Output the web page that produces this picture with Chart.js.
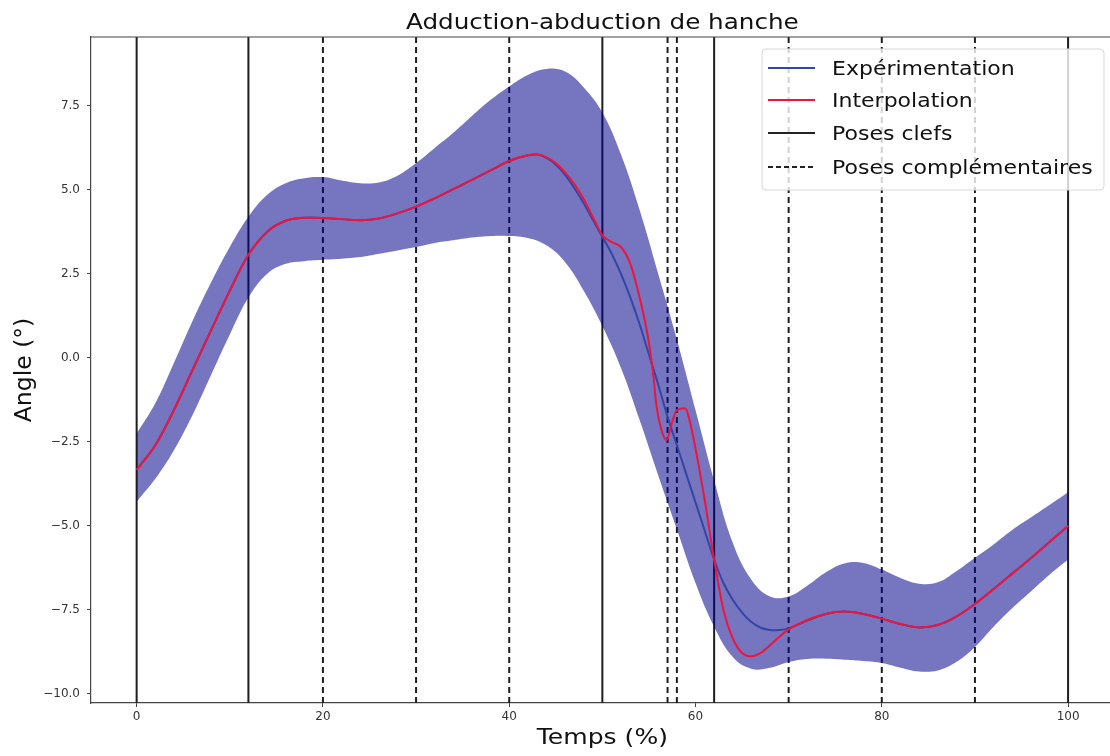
<!DOCTYPE html>
<html>
<head>
<meta charset="utf-8">
<script src="https://cdn.jsdelivr.net/npm/chart.js@4.4.0/dist/chart.umd.min.js"></script>
<style>
  html, body { margin: 0; padding: 0; background: #fff; }
  #wrap { width: 1110px; height: 756px; position: relative; }
</style>
</head>
<body>
<div id="wrap"><canvas id="myChart"></canvas></div>
<script>
// data
const timeExp = [0, 2, 4, 6, 8, 10, 12, 14, 16, 18, 20, 22, 24, 26, 28, 30, 32, 34, 36, 38, 40, 42, 43, 44, 45, 46, 47, 48, 49,
  50, 51, 52, 53, 54, 55, 56, 57, 58, 59, 60, 61, 62, 63, 64, 65, 66, 67, 68, 69, 70, 72, 74, 76, 78, 80, 82, 84, 86, 88, 90, 92, 94, 96, 98, 100];
const experimentation = [-3.33, -2.6, -1.55, -0.36, 0.83, 2.0, 3.07, 3.75, 4.08, 4.17, 4.16, 4.13, 4.1, 4.15, 4.3, 4.5, 4.75, 5.02, 5.3, 5.58, 5.86, 6.03, 6.05, 5.95, 5.75, 5.45, 5.05, 4.6, 4.1,
  3.6, 3.1, 2.5, 1.8, 1.0, 0.1, -0.8, -1.75, -2.6, -3.45, -4.3, -5.15, -6.0, -6.7, -7.2, -7.58, -7.86, -8.03, -8.1, -8.1, -8.05, -7.82, -7.62, -7.55, -7.62, -7.76, -7.92, -8.02, -7.95, -7.7, -7.32, -6.88, -6.42, -5.96, -5.48, -5.0];

const timeInterp = [0, 2, 4, 6, 8, 10, 12, 14, 16, 18, 20, 22, 24, 26, 28, 30, 32, 34, 36, 38, 40, 42, 43, 44, 45, 46, 47, 48, 49,
  50, 51, 52, 53, 54, 55, 55.5, 55.8, 56.3, 56.9, 57.5, 58, 58.9, 59.4, 60, 61, 62, 63, 64, 65, 66, 67, 68, 69, 70, 72, 74, 76, 78, 80, 82, 84, 86, 88, 90, 92, 94, 96, 98, 100];
const interpolation = [-3.33, -2.6, -1.55, -0.36, 0.83, 2.0, 3.07, 3.75, 4.08, 4.17, 4.16, 4.13, 4.1, 4.15, 4.3, 4.5, 4.75, 5.02, 5.3, 5.58, 5.86, 6.03, 6.05, 5.97, 5.8, 5.52, 5.17, 4.72, 4.18,
  3.65, 3.45, 3.3, 2.8, 1.8, 0.45, -0.6, -1.4, -2.1, -2.45, -1.9, -1.55, -1.5, -1.9, -2.7, -4.25, -6.0, -7.5, -8.35, -8.78, -8.88, -8.78, -8.55, -8.3, -8.08, -7.8, -7.62, -7.55, -7.62, -7.76, -7.92, -8.02, -7.95, -7.7, -7.32, -6.88, -6.42, -5.96, -5.48, -5.0];

const timeBand = [0, 2, 4, 6, 8, 10, 12, 14, 16, 18, 20, 22, 24, 26, 28, 30, 32, 34, 36, 38, 40, 42, 44, 46, 48,
  50, 52, 54, 56, 58, 60, 62, 64, 66, 68, 70, 72, 74, 76, 78, 80, 82, 84, 86, 88, 90, 92, 94, 96, 98, 100];
const bandUpper = [-2.25, -1.35, -0.15, 1.1, 2.25, 3.3, 4.2, 4.85, 5.2, 5.35, 5.38, 5.28, 5.2, 5.22, 5.42, 5.8, 6.25, 6.7, 7.2, 7.68, 8.08, 8.42, 8.6, 8.52, 8.05,
  7.3, 6.05, 4.4, 2.5, 0.55, -1.55, -3.65, -5.5, -6.6, -7.1, -7.1, -6.78, -6.38, -6.12, -6.1, -6.3, -6.55, -6.72, -6.68, -6.35, -5.95, -5.55, -5.12, -4.75, -4.38, -4.0];
const bandLower = [-4.28, -3.6, -2.75, -1.7, -0.5, 0.7, 1.8, 2.5, 2.8, 2.88, 2.92, 2.95, 3.0, 3.1, 3.2, 3.3, 3.42, 3.5, 3.58, 3.63, 3.63, 3.57, 3.35, 2.85, 2.0,
  0.95, -0.3, -1.85, -3.5, -5.1, -6.7, -8.0, -8.9, -9.25, -9.22, -9.05, -8.96, -8.95, -8.98, -9.02, -9.08, -9.22, -9.33, -9.3, -9.05, -8.6, -8.0, -7.45, -6.95, -6.45, -6.0];

const posesClefs = [0, 12, 50, 62, 100];
const posesComplementaires = [20, 30, 40, 57, 58, 70, 80, 90];

const xTicks = [0, 20, 40, 60, 80, 100];
const yTicks = [-10, -7.5, -5, -2.5, 0, 2.5, 5, 7.5];

const xMin = -4.9, xMax = 104.5;
const yMin = -10.27, yMax = 9.55;

const FONT = 'DejaVu Sans';

const pts = (xs, ys) => xs.map((x, i) => ({ x: x, y: ys[i] }));
const vlines = (list) => list.flatMap(p => [{ x: p, y: yMin }, { x: p, y: yMax }, { x: p, y: null }]);

const legendItems = [
  { label: 'Expérimentation', color: '#3346a6', dash: [] },
  { label: 'Interpolation', color: '#f0143c', dash: [] },
  { label: 'Poses clefs', color: '#222', dash: [] },
  { label: 'Poses complémentaires', color: '#222', dash: [5, 3] }
];

// text a bit wider than the font, like the reference picture
function wideText(ctx, text, x, y, size, sx, align) {
  ctx.save();
  ctx.font = size + 'px "' + FONT + '"';
  ctx.translate(x, y);
  ctx.scale(sx, 1);
  ctx.textAlign = align;
  ctx.textBaseline = 'alphabetic';
  ctx.fillStyle = '#111';
  ctx.fillText(text, 0, 0);
  ctx.restore();
}

// title, x label, top frame line and legend box drawn by hand
const decorPlugin = {
  id: 'decor',
  afterDraw(chart) {
    const ctx = chart.ctx;
    const a = chart.chartArea;
    ctx.save();
    ctx.strokeStyle = '#444';
    ctx.lineWidth = 1.2;
    ctx.beginPath();
    ctx.moveTo(a.left, a.top);
    ctx.lineTo(a.right, a.top);
    ctx.stroke();

    const cx = chart.scales.x.getPixelForValue(50);
    wideText(ctx, 'Adduction-abduction de hanche', cx, 29, 22, 1.12, 'center');
    wideText(ctx, 'Temps (%)', cx, 744, 22, 1.14, 'center');

    // legend
    const bx = 762, by = 49, bw = 342, bh = 141;
    ctx.beginPath();
    ctx.roundRect(bx, by, bw, bh, 4);
    ctx.fillStyle = 'rgba(255,255,255,0.8)';
    ctx.fill();
    ctx.strokeStyle = '#d6d6d6';
    ctx.lineWidth = 1;
    ctx.stroke();
    const rows = [68, 100, 133, 167];
    legendItems.forEach((it, i) => {
      ctx.beginPath();
      ctx.setLineDash(it.dash);
      ctx.strokeStyle = it.color;
      ctx.lineWidth = 2;
      ctx.moveTo(768, rows[i]);
      ctx.lineTo(815, rows[i]);
      ctx.stroke();
      ctx.setLineDash([]);
      wideText(ctx, it.label, 832, rows[i] + 7, 20, 1.1, 'left');
    });
    ctx.restore();
  }
};

const data = {
  datasets: [
    {
      label: 'Poses clefs',
      data: vlines(posesClefs),
      borderColor: '#1e1e1e',
      borderWidth: 2,
      pointRadius: 0,
      tension: 0,
      fill: false,
      order: 10
    },
    {
      label: 'Poses complémentaires',
      data: vlines(posesComplementaires),
      borderColor: '#1e1e1e',
      borderWidth: 2,
      borderDash: [6, 4],
      pointRadius: 0,
      tension: 0,
      fill: false,
      order: 9
    },
    {
      label: 'upper',
      data: pts(timeBand, bandUpper),
      borderWidth: 0,
      borderColor: 'rgba(0,0,0,0)',
      backgroundColor: 'rgba(0,0,139,0.54)',
      pointRadius: 0,
      tension: 0.4,
      fill: '+1',
      order: 5
    },
    {
      label: 'lower',
      data: pts(timeBand, bandLower),
      borderWidth: 0,
      borderColor: 'rgba(0,0,0,0)',
      pointRadius: 0,
      tension: 0.4,
      fill: false,
      order: 4
    },
    {
      label: 'Expérimentation',
      data: pts(timeExp, experimentation),
      borderColor: '#3346a6',
      borderWidth: 2,
      pointRadius: 0,
      tension: 0.4,
      fill: false,
      order: 2
    },
    {
      label: 'Interpolation',
      data: pts(timeInterp, interpolation),
      borderColor: '#f0143c',
      borderWidth: 2,
      pointRadius: 0,
      cubicInterpolationMode: 'monotone',
      fill: false,
      order: 1
    }
  ]
};

const config = {
  type: 'line',
  data: data,
  plugins: [decorPlugin],
  options: {
    responsive: true,
    maintainAspectRatio: false,
    animation: false,
    layout: { padding: { top: 37, right: 0, left: 0, bottom: 0 } },
    plugins: {
      legend: { display: false },
      tooltip: { enabled: false },
      title: { display: false }
    },
    scales: {
      x: {
        type: 'linear',
        min: xMin,
        max: xMax,
        afterBuildTicks: s => { s.ticks = xTicks.map(v => ({ value: v })); },
        afterFit: s => { s.height = 53; },
        ticks: {
          font: { family: FONT, size: 12 },
          color: '#333',
          padding: 3,
          maxRotation: 0,
          autoSkip: false,
          callback: v => String(v)
        },
        grid: { drawOnChartArea: false, drawTicks: true, tickLength: 4, tickColor: '#444' },
        border: { color: '#444', width: 1.2 },
        title: { display: false }
      },
      y: {
        type: 'linear',
        min: yMin,
        max: yMax,
        afterBuildTicks: s => { s.ticks = yTicks.map(v => ({ value: v })); },
        afterFit: s => { s.width = 91; },
        ticks: {
          font: { family: FONT, size: 12 },
          color: '#333',
          padding: 7,
          autoSkip: false,
          callback: v => v.toFixed(1).replace('-', '\u2212')
        },
        grid: { drawOnChartArea: false, drawTicks: true, tickLength: 4, tickColor: '#444' },
        border: { color: '#444', width: 1.2 },
        title: {
          display: true,
          text: 'Angle (°)',
          font: { family: FONT, size: 23.5 },
          color: '#111',
          padding: { top: 11, bottom: 0 }
        }
      }
    }
  }
};

const myChart = new Chart(document.getElementById('myChart'), config);
</script>
</body>
</html>
